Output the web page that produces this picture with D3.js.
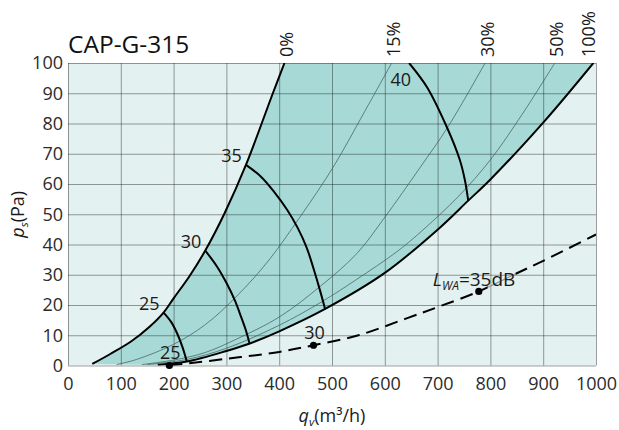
<!DOCTYPE html>
<html>
<head>
<meta charset="utf-8">
<script src="https://cdn.jsdelivr.net/npm/d3@7"></script>
<style>
body { margin: 0; background: #fff; }
svg { display: block; font-family: "Open Sans", sans-serif; }
</style>
</head>
<body>
<div id="chart"></div>
<script>
// Axis ticks
var qTicks = [0, 100, 200, 300, 400, 500, 600, 700, 800, 900, 1000];
var pTicks = [0, 10, 20, 30, 40, 50, 60, 70, 80, 90, 100];

// Damper position curves, [q (m3/h), ps (Pa)]
var pos0   = [[46,0.5],[80,3.8],[120,8],[155,12.9],[181,17.5],[200,22.2],[230,29.5],[260,38],[297,50.5],[337,66.3],[388,90],[410,100]];
var pos15  = [[92,0.3],[130,2],[200,7],[260,13.5],[320,23],[379,34.5],[439,49],[502,65.5],[562,84],[613,100]];
var pos30  = [[140,0.3],[200,1.8],[260,4.3],[320,8.8],[400,16],[480,26.5],[547,37],[600,49],[667,65.5],[720,79],[790,100]];
var pos50  = [[150,0.3],[225,2],[300,5.7],[400,13.3],[480,21],[547,28.5],[622,37.5],[667,44],[740,56],[800,68],[860,83],[922,100]];
var pos100 = [[170,0.2],[225,1.3],[300,4.8],[343,7.2],[400,11.3],[487,18.7],[600,30.6],[700,44.9],[758,54.5],[800,61.5],[900,80.3],[995,100]];
var posLabels = ["0%", "15%", "30%", "50%", "100%"];

// Sound power isolines (dB)
var iso25 = [[181,17.5],[195,14.5],[207,10.5],[217,6],[225,1.3]];
var iso30 = [[260,38],[283,32.5],[301,27],[316,21.5],[328,16],[338,11],[344,7.1]];
var iso35 = [[337,66.3],[365,62.5],[390,57.5],[415,51.5],[435,45.5],[452,39],[466,31.5],[477,25],[487,18.6]];
var iso40 = [[646,100],[680,92],[717,79],[742,68],[752,61],[758,54.5]];
var isoLabels = ["25", "30", "35", "40"];

// L_WA = 35 dB duct curve and marked points
var lwaCurve = [[192,0],[300,2.2],[400,4.5],[465,6.7],[550,10],[640,15.5],[700,19.3],[778,24.5],[850,30.5],[900,34.6],[1000,43.3]];
var lwaDots = [[192,0],[465,6.7],[778,24.5]];
var lwaDotLabels = ["25", "30"];

var margin = {top: 63, right: 23, bottom: 64.5, left: 68},
    width = 619 - margin.left - margin.right,
    height = 430 - margin.top - margin.bottom;

var x = d3.scaleLinear().domain([0, 1000]).range([0, width]);
var y = d3.scaleLinear().domain([0, 100]).range([height, 0]);

var line = d3.line()
    .x(function(d) { return x(d[0]); })
    .y(function(d) { return y(d[1]); })
    .curve(d3.curveCatmullRom.alpha(0.5));

var svg = d3.select("#chart").append("svg")
    .attr("width", 619)
    .attr("height", 430);

var defs = svg.append("defs");
defs.append("clipPath").attr("id", "plot")
    .append("rect").attr("width", width).attr("height", height);

var g = svg.append("g")
    .attr("transform", "translate(" + margin.left + "," + margin.top + ")");

// background
g.append("rect")
    .attr("width", width).attr("height", height)
    .attr("fill", "#e3f1f0");

// operating range
var upper = line(pos0);
var lower = line(pos100.slice().reverse()).replace(/^M/, "L");
g.append("path")
    .attr("clip-path", "url(#plot)")
    .attr("d", upper + lower + "Z")
    .attr("fill", "#a7dad7");

// grid + tick labels
var yAxis = g.append("g")
    .call(d3.axisLeft(y).tickValues(pTicks).tickSize(-width).tickPadding(5));
var xAxis = g.append("g")
    .attr("transform", "translate(0," + height + ")")
    .call(d3.axisBottom(x).tickValues(qTicks).tickFormat(d3.format("d")).tickSize(-height).tickPadding(11.8));
[xAxis, yAxis].forEach(function(a) {
    a.select(".domain").remove();
    a.selectAll("line").attr("stroke", "#000").attr("stroke-opacity", 0.38);
    a.selectAll("text")
        .attr("fill", "#2b2b2b")
        .style("font-size", "18px")
        .style("font-family", "'Open Sans', sans-serif");
});

var curves = g.append("g").attr("clip-path", "url(#plot)");

// thin intermediate positions
[pos15, pos30, pos50].forEach(function(c) {
    curves.append("path")
        .attr("d", line(c))
        .attr("fill", "none")
        .attr("stroke", "#3d5655")
        .attr("stroke-width", 0.7);
});

// thick curves
[pos0, pos100, iso25, iso30, iso35, iso40].forEach(function(c) {
    curves.append("path")
        .attr("d", line(c))
        .attr("fill", "none")
        .attr("stroke", "#000")
        .attr("stroke-width", 2);
});

// L_WA label, measured first so its box can knock out the dashed line
var lwa = g.append("text")
    .attr("x", x(778) - 46)
    .attr("y", y(24.5) - 5.5)
    .attr("fill", "#1a1a1a")
    .style("font-size", "19px");
lwa.append("tspan").style("font-style", "italic").text("L");
lwa.append("tspan").style("font-style", "italic").style("font-size", "12px").attr("dy", 4).text("WA");
lwa.append("tspan").attr("dy", -4).text("=35dB");
var bb = lwa.node().getBBox();
var kx = x(778) + 9, kw = bb.x + bb.width - kx;

defs.append("clipPath").attr("id", "knockout")
    .append("path")
    .attr("clip-rule", "evenodd")
    .attr("d", "M0,0H" + width + "V" + height + "H0Z" +
               "M" + kx + "," + bb.y + "h" + kw + "v" + bb.height + "h" + (-kw) + "Z");
defs.append("clipPath").attr("id", "knockin")
    .append("rect").attr("x", kx).attr("y", bb.y).attr("width", kw).attr("height", bb.height);

g.append("path")
    .attr("clip-path", "url(#knockout)")
    .attr("d", line(lwaCurve))
    .attr("fill", "none")
    .attr("stroke", "#000")
    .attr("stroke-width", 2)
    .attr("stroke-dasharray", "13,7");
g.append("path")
    .attr("clip-path", "url(#knockin)")
    .attr("d", line(lwaCurve))
    .attr("fill", "none")
    .attr("stroke", "#9a9a9a")
    .attr("stroke-width", 1.2);
lwa.raise();

g.selectAll(".dot")
    .data(lwaDots)
    .enter().append("circle")
    .attr("cx", function(d) { return x(d[0]); })
    .attr("cy", function(d) { return y(d[1]); })
    .attr("r", 3.6)
    .attr("fill", "#000");

g.selectAll(".dot-label")
    .data(lwaDotLabels)
    .enter().append("text")
    .attr("x", function(d, i) { return x(lwaDots[i][0]) + 1; })
    .attr("y", function(d, i) { return y(lwaDots[i][1]) - 6.5; })
    .attr("text-anchor", "middle")
    .attr("fill", "#1a1a1a")
    .style("font-size", "18px")
    .text(function(d) { return d; });

// isoline labels
[iso25, iso30, iso35, iso40].forEach(function(c, i) {
    var top = c[0][1] >= 100;
    g.append("text")
        .attr("x", x(c[0][0]) + (top ? 2 : -4))
        .attr("y", y(c[0][1]) + (top ? 23 : -2.5))
        .attr("text-anchor", "end")
        .attr("fill", "#1a1a1a")
        .style("font-size", "18px")
        .text(isoLabels[i]);
});

// damper position labels above the plot
[pos0, pos15, pos30, pos50, pos100].forEach(function(c, i) {
    var cx = Math.min(x(c[c.length - 1][0]) + 2, width - 7.5);
    g.append("text")
        .attr("transform", "translate(" + (cx + 6.4) + ",-6) rotate(-90)")
        .attr("fill", "#1a1a1a")
        .style("font-size", "18px")
        .text(posLabels[i]);
});

// title
g.append("text")
    .attr("x", 0)
    .attr("y", -10)
    .attr("fill", "#111")
    .style("font-size", "24.5px")
    .text("CAP-G-315");

// axis titles
var xt = g.append("text")
    .attr("x", width / 2)
    .attr("y", height + 56)
    .attr("text-anchor", "middle")
    .attr("fill", "#1a1a1a")
    .style("font-size", "18px");
xt.append("tspan").style("font-style", "italic").text("q");
xt.append("tspan").style("font-style", "italic").style("font-size", "11.5px").attr("dy", 4).text("v");
xt.append("tspan").attr("dy", -4).text("(m³/h)");

var yt = g.append("text")
    .attr("transform", "translate(" + (23.5 - margin.left) + "," + (height / 2) + ") rotate(-90)")
    .attr("text-anchor", "middle")
    .attr("fill", "#1a1a1a")
    .style("font-size", "18px");
yt.append("tspan").style("font-style", "italic").text("p");
yt.append("tspan").style("font-style", "italic").style("font-size", "11.5px").attr("dy", 4).text("s");
yt.append("tspan").attr("dy", -4).text("(Pa)");
</script>
</body>
</html>
